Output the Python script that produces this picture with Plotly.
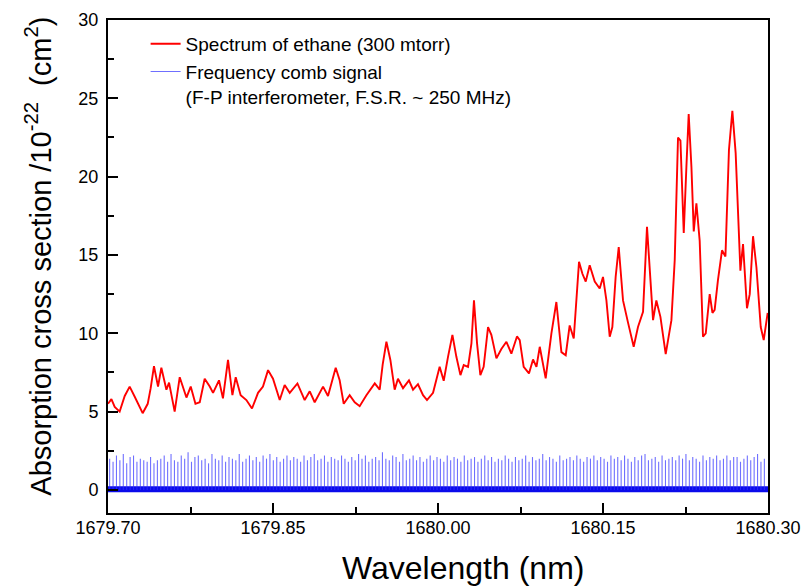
import plotly.graph_objects as go

# ---- Red spectrum (wavelength nm, absorption cross section 1e-22 cm^2) ----
wl_offset = [0.0000, 0.0031, 0.0061, 0.0106, 0.0152, 0.0197, 0.0243, 0.0279, 0.0315, 0.0361,
             0.0388, 0.0418, 0.0455, 0.0485, 0.0531, 0.0555, 0.0606, 0.0652, 0.0713, 0.0752,
             0.0795, 0.0834, 0.0879, 0.0925, 0.0955, 0.1009, 0.1045, 0.1091, 0.1131, 0.1161,
             0.1206, 0.1258, 0.1309, 0.1364, 0.1409, 0.1455, 0.1500, 0.1561, 0.1606, 0.1652,
             0.1722, 0.1788, 0.1834, 0.1879, 0.1925, 0.1955, 0.2000, 0.2070, 0.2106, 0.2143,
             0.2197, 0.2243, 0.2288, 0.2349, 0.2425, 0.2470, 0.2497, 0.2531, 0.2567, 0.2606,
             0.2636, 0.2682, 0.2736, 0.2773, 0.2818, 0.2864, 0.2900, 0.2955, 0.3015, 0.3052,
             0.3091, 0.3131, 0.3167, 0.3204, 0.3234, 0.3273, 0.3304, 0.3327, 0.3355, 0.3385,
             0.3415, 0.3455, 0.3485, 0.3531, 0.3576, 0.3622, 0.3667, 0.3718, 0.3743, 0.3779,
             0.3827, 0.3864, 0.3895, 0.3925, 0.3979, 0.4031, 0.4076, 0.4122, 0.4161, 0.4197,
             0.4234, 0.4282, 0.4313, 0.4343, 0.4379, 0.4425, 0.4470, 0.4500, 0.4531, 0.4561,
             0.4585, 0.4615, 0.4643, 0.4682, 0.4727, 0.4779, 0.4818, 0.4864, 0.4900, 0.4931,
             0.4955, 0.4985, 0.5022, 0.5070, 0.5122, 0.5152, 0.5182, 0.5204, 0.5234, 0.5258,
             0.5279, 0.5304, 0.5325, 0.5349, 0.5379, 0.5409, 0.5434, 0.5470, 0.5495, 0.5515,
             0.5545, 0.5582, 0.5613, 0.5645, 0.5676, 0.5706, 0.5736, 0.5749, 0.5773, 0.5809,
             0.5834, 0.5864, 0.5895, 0.5934, 0.5961, 0.5985, 0.5997]
absorption = [5.5, 5.8, 5.3, 5.0, 6.0, 6.6, 5.95, 5.4, 4.9, 5.5,
              6.5, 7.9, 6.6, 7.8, 6.4, 6.85, 5.0, 7.2, 5.9, 6.6,
              5.5, 5.6, 7.1, 6.6, 6.2, 7.0, 5.85, 8.3, 6.05, 7.2,
              6.05, 5.74, 5.2, 6.2, 6.6, 7.65, 7.1, 5.74, 6.7, 6.2,
              6.8, 5.74, 6.3, 5.6, 6.2, 6.6, 6.0, 7.8, 7.0, 5.5,
              6.05, 5.6, 5.35, 6.05, 6.8, 6.4, 8.0, 9.46, 8.3, 6.4,
              7.1, 6.5, 7.0, 6.4, 6.75, 6.05, 5.74, 6.2, 7.86, 6.97,
              8.5, 9.9, 8.5, 7.33, 7.97, 7.86, 9.36, 12.1, 9.36, 7.33,
              7.86, 10.4, 9.9, 8.4, 9.0, 9.46, 8.7, 9.8, 9.57, 7.86,
              7.44, 8.33, 7.86, 9.14, 7.12, 10.0, 12.0, 8.8, 8.6, 10.5,
              9.67, 14.56, 13.8, 13.3, 14.35, 13.3, 12.86, 13.6, 12.1, 9.78,
              10.4, 13.6, 15.5, 12.1, 10.7, 9.14, 10.4, 11.37, 16.8, 13.8,
              10.84, 12.1, 11.05, 8.67, 10.84, 14.67, 22.5, 22.3, 16.4, 20.6,
              24.0, 20.6, 16.5, 18.3, 15.9, 9.78, 10.0, 12.5, 11.3, 11.5,
              13.4, 15.3, 14.9, 21.7, 24.2, 21.5, 16.4, 14.0, 15.7, 11.6,
              12.5, 16.2, 14.2, 10.4, 9.57, 10.84, 11.3]
wl_start = 1679.70
wavelength = [wl_start + d for d in wl_offset]

# ---- Frequency comb (F-P interferometer transmission peaks) ----
comb_first = 1679.7015
comb_spacing = 0.0031
comb_heights = [
    2.0, 1.8, 2.2, 1.9, 2.3, 1.7, 2.1, 2.2, 1.8, 2.0, 1.9, 1.8, 2.1, 1.7, 1.9, 2.0, 2.2, 1.8, 2.3, 1.9,
    1.8, 2.2, 2.0, 2.4, 1.8, 2.1, 2.2, 1.9, 2.0, 1.7, 2.3, 2.0, 1.9, 2.2, 1.8, 2.1, 2.0, 1.9, 2.3, 1.8,
    2.0, 2.2, 1.9, 2.1, 1.8, 2.2, 2.0, 2.3, 1.9, 2.1, 1.8, 2.0, 2.2, 1.9, 2.1, 2.0, 1.8, 2.2, 1.9, 2.1,
    2.3, 1.9, 2.0, 2.2, 1.8, 2.1, 2.0, 1.9, 2.2, 2.0, 1.8, 2.1, 1.9, 2.3, 2.0, 2.2, 1.8, 2.0, 2.1, 1.9,
    2.4, 2.0, 1.9, 2.2, 2.1, 1.8, 2.3, 1.9, 2.0, 2.2, 1.9, 2.1, 1.8, 2.0, 2.2, 1.9, 2.1, 2.0, 1.8, 2.2,
    1.9, 2.1, 2.0, 1.8, 2.2, 1.9, 2.0, 2.1, 1.8, 2.0, 2.2, 1.9, 2.1, 1.8, 2.0, 1.9, 2.2, 2.0, 1.8, 2.1,
    1.9, 2.0, 2.2, 1.8, 2.1, 1.9, 2.0, 2.3, 1.9, 2.1, 2.0, 1.8, 2.2, 1.9, 2.0, 2.1, 1.9, 2.2, 2.0, 1.8,
    2.1, 2.0, 2.2, 1.9, 2.1, 2.0, 1.8, 2.2, 2.0, 2.1, 1.9, 2.2, 2.0, 1.8, 2.1, 1.9, 2.2, 2.3, 1.9, 2.0,
    2.1, 1.8, 2.2, 1.9, 2.0, 2.1, 1.9, 2.2, 2.0, 2.3, 1.9, 2.1, 2.0, 1.8, 2.2, 1.9, 2.1, 2.0, 2.2, 1.9,
    2.0, 2.2, 1.9, 2.1, 2.1, 1.8, 2.0, 2.2, 1.9, 2.1, 2.3, 1.8, 2.0, 2.2]

comb_x, comb_y = [], []
for i, h in enumerate(comb_heights):
    xc = comb_first + i * comb_spacing
    if xc > 1680.2995:
        break
    comb_x += [xc, xc, None]
    comb_y += [0.0, h, None]

x_ticks = [1679.70, 1679.85, 1680.00, 1680.15, 1680.30]
y_ticks = [0, 5, 10, 15, 20, 25, 30]

FONT = "Liberation Sans, Arial"

fig = go.Figure()

# baseline noise band of the comb signal
fig.add_trace(go.Scatter(x=[1679.70, 1680.30], y=[0.05, 0.05], mode="lines",
                         line=dict(color="rgb(10,10,235)", width=6), showlegend=False,
                         hoverinfo="skip"))

fig.add_trace(go.Scatter(x=wavelength, y=absorption, mode="lines",
                         name="Spectrum of ethane (300 mtorr)",
                         line=dict(color="rgb(255,0,0)", width=1.9)))

fig.add_trace(go.Scatter(x=comb_x, y=comb_y, mode="lines",
                         name="Frequency comb signal<br>(F-P interferometer, F.S.R. ~ 250 MHz)",
                         line=dict(color="rgba(50,50,255,0.7)", width=1.1)))

axis_common = dict(showline=True, linecolor="black", linewidth=2, mirror=True,
                   ticks="inside", tickcolor="black", tickwidth=2, ticklen=10,
                   showgrid=False, zeroline=False, automargin=False,
                   tickfont=dict(family=FONT, size=18, color="black"))

fig.update_xaxes(range=[1679.70, 1680.30], tickvals=x_ticks,
                 ticktext=[f"{v:.2f}" for v in x_ticks], ticklabelstandoff=-3,
                 minor=dict(ticks="inside", dtick=0.075, tick0=1679.70, ticklen=6,
                            tickwidth=2, tickcolor="black"),
                 **axis_common)
fig.update_yaxes(range=[-1.47, 30], tickvals=y_ticks, ticklabelstandoff=4,
                 minor=dict(ticks="inside", dtick=2.5, tick0=0, ticklen=6,
                            tickwidth=2, tickcolor="black"),
                 **axis_common)

fig.update_layout(
    width=805, height=586,
    margin=dict(l=108, r=37, t=20, b=73),
    paper_bgcolor="white", plot_bgcolor="white",
    legend=dict(x=0.057, y=0.99, xanchor="left", yanchor="top",
                bgcolor="rgba(0,0,0,0)", valign="top", tracegroupgap=0,
                font=dict(family=FONT, size=19, color="black")),
    annotations=[
        dict(text="Wavelength (nm)", xref="paper", yref="paper", x=0.538, y=0,
             xanchor="center", yanchor="middle", yshift=-55, showarrow=False,
             font=dict(family=FONT, size=32, color="black")),
        dict(text="Absorption cross section /10<sup>-22</sup>  (cm<sup>2</sup>)",
             xref="paper", yref="paper", x=0, y=0.52, xshift=-70,
             xanchor="center", yanchor="middle", textangle=-90, showarrow=False,
             font=dict(family=FONT, size=29, color="black")),
    ],
)

# remove the default page margin so the figure fills the window exactly
fig.write_html("out.html",
               config={"displayModeBar": False},
               post_script="document.body.style.margin='0';"
                           "document.body.style.overflow='hidden';")
